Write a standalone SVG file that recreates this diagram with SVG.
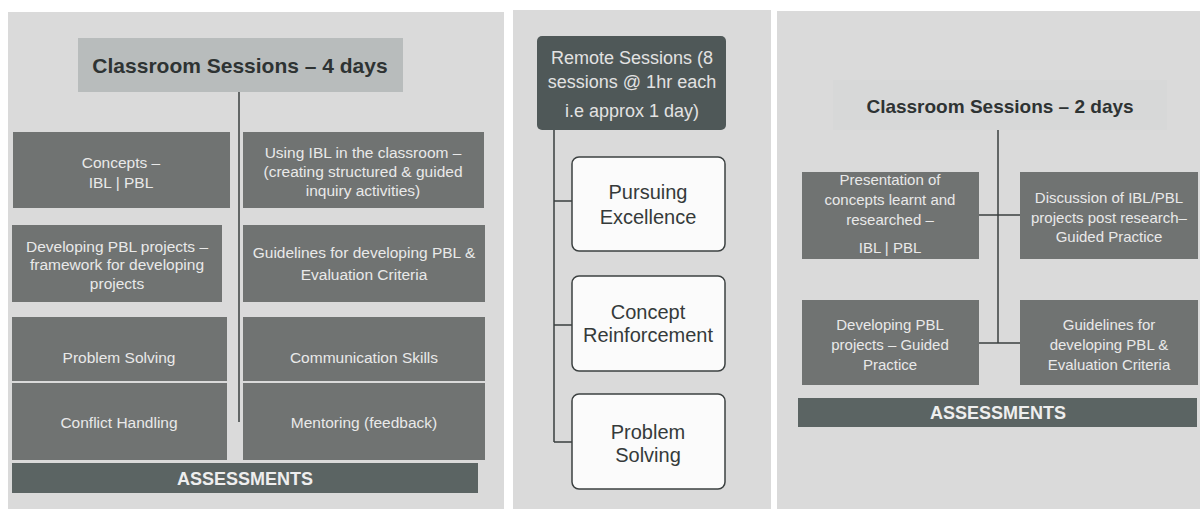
<svg xmlns="http://www.w3.org/2000/svg" width="1200" height="509" viewBox="0 0 1200 509">
  <style>
    .panel { fill: #dadada; }
    .box { fill: #707372; }
    .bar { fill: #5b6463; }
    .btxt { font-family: "Liberation Sans", Arial, sans-serif; font-size: 15.5px; fill: #e9e9e9; text-anchor: middle; }
    .rtxt { font-family: "Liberation Sans", Arial, sans-serif; font-size: 15px; fill: #e9e9e9; text-anchor: middle; }
    .bartxt { font-family: "Liberation Sans", Arial, sans-serif; font-size: 18px; font-weight: bold; fill: #eeeeee; text-anchor: middle; }
    .title { font-family: "Liberation Sans", Arial, sans-serif; font-weight: bold; fill: #2e3333; text-anchor: middle; }
    .child { fill: #fbfbfb; stroke: #3c4141; stroke-width: 1.5; }
    .ctxt { font-family: "Liberation Sans", Arial, sans-serif; font-size: 20px; fill: #353a3a; text-anchor: middle; }
    .htxt { font-family: "Liberation Sans", Arial, sans-serif; font-size: 18px; fill: #e2e2e2; text-anchor: middle; }
    .line { stroke: #3a3f3f; stroke-width: 1.5; fill: none; }
  </style>

  <rect x="0" y="0" width="1200" height="509" fill="#ffffff"/>

  <!-- panel backgrounds -->
  <rect class="panel" x="8" y="12" width="496" height="497"/>
  <rect class="panel" x="513" y="10" width="258" height="499" fill="#dedede"/>
  <rect class="panel" x="777" y="11" width="423" height="498" fill="#e1e1e1"/>

  <!-- connectors -->
  <g id="connectors">
    <line class="line" x1="239" y1="92" x2="239" y2="422"/>
    <path class="line" d="M554 130 V442 M554 201 H572 M554 325 H572 M554 442 H572"/>
    <line class="line" x1="998" y1="130" x2="998" y2="343"/>
    <line class="line" x1="979" y1="215" x2="1020" y2="215"/>
    <line class="line" x1="979" y1="343" x2="1020" y2="343"/>
  </g>

  <!-- left panel: 4-day classroom block -->
  <g id="left-title">
    <rect x="78" y="38" width="325" height="54" fill="#b8bcbc"/>
    <text class="title" x="240" y="73" font-size="21">Classroom Sessions – 4 days</text>
  </g>
  <g id="concepts">
    <rect class="box" x="13" y="132" width="217" height="76"/>
    <text class="btxt" x="121" y="168">Concepts –</text>
    <text class="btxt" x="121" y="188">IBL | PBL</text>
  </g>
  <g id="using-ibl">
    <rect class="box" x="243" y="132" width="241" height="76"/>
    <text class="btxt" x="363" y="158">Using IBL in the classroom –</text>
    <text class="btxt" x="363" y="177">(creating structured &amp; guided</text>
    <text class="btxt" x="363" y="196">inquiry activities)</text>
  </g>
  <g id="developing-pbl">
    <rect class="box" x="12" y="225" width="210" height="77"/>
    <text class="btxt" x="117" y="252">Developing PBL projects –</text>
    <text class="btxt" x="117" y="270">framework for developing</text>
    <text class="btxt" x="117" y="289">projects</text>
  </g>
  <g id="guidelines-left">
    <rect class="box" x="243" y="225" width="242" height="77"/>
    <text class="btxt" x="364" y="258">Guidelines for developing PBL &amp;</text>
    <text class="btxt" x="364" y="280">Evaluation Criteria</text>
  </g>
  <g id="problem-solving-left">
    <rect class="box" x="12" y="317" width="215" height="64"/>
    <text class="btxt" x="119" y="363">Problem Solving</text>
  </g>
  <g id="communication">
    <rect class="box" x="243" y="317" width="242" height="64"/>
    <text class="btxt" x="364" y="363">Communication Skills</text>
  </g>
  <g id="conflict">
    <rect class="box" x="12" y="383" width="215" height="77"/>
    <text class="btxt" x="119" y="428">Conflict Handling</text>
  </g>
  <g id="mentoring">
    <rect class="box" x="243" y="383" width="242" height="77"/>
    <text class="btxt" x="364" y="428">Mentoring (feedback)</text>
  </g>
  <g id="assessments-left">
    <rect class="bar" x="12" y="463" width="466" height="30"/>
    <text class="bartxt" x="245" y="485">ASSESSMENTS</text>
  </g>

  <!-- middle panel: remote sessions -->
  <g id="remote">
    <rect x="537" y="36" width="189" height="94" rx="5" fill="#4f5858"/>
    <text class="htxt" x="632" y="64">Remote Sessions (8</text>
    <text class="htxt" x="632" y="88">sessions @ 1hr each</text>
    <text class="htxt" x="632" y="117" font-size="14.5">i.e approx 1 day)</text>
  </g>
  <g id="pursuing">
    <rect class="child" x="572" y="157" width="153" height="94" rx="7"/>
    <text class="ctxt" x="648" y="199">Pursuing</text>
    <text class="ctxt" x="648" y="224">Excellence</text>
  </g>
  <g id="reinforcement">
    <rect class="child" x="572" y="276" width="153" height="95" rx="7"/>
    <text class="ctxt" x="648" y="319">Concept</text>
    <text class="ctxt" x="648" y="342">Reinforcement</text>
  </g>
  <g id="problem-solving-mid">
    <rect class="child" x="572" y="394" width="153" height="95" rx="7"/>
    <text class="ctxt" x="648" y="439">Problem</text>
    <text class="ctxt" x="648" y="462">Solving</text>
  </g>

  <!-- right panel: 2-day classroom block -->
  <g id="right-title">
    <rect x="833" y="80" width="334" height="50" fill="#d7d8d8"/>
    <text class="title" x="1000" y="113" font-size="19">Classroom Sessions – 2 days</text>
  </g>
  <g id="presentation">
    <rect class="box" x="802" y="172" width="177" height="87"/>
    <text class="rtxt" x="890" y="185">Presentation of</text>
    <text class="rtxt" x="890" y="205">concepts learnt and</text>
    <text class="rtxt" x="890" y="225">researched –</text>
    <text class="rtxt" x="890" y="253">IBL | PBL</text>
  </g>
  <g id="discussion">
    <rect class="box" x="1020" y="172" width="178" height="87"/>
    <text class="rtxt" x="1109" y="203">Discussion of IBL/PBL</text>
    <text class="rtxt" x="1109" y="223">projects post research–</text>
    <text class="rtxt" x="1109" y="242">Guided Practice</text>
  </g>
  <g id="developing-right">
    <rect class="box" x="802" y="300" width="177" height="85"/>
    <text class="rtxt" x="890" y="330">Developing PBL</text>
    <text class="rtxt" x="890" y="350">projects – Guided</text>
    <text class="rtxt" x="890" y="370">Practice</text>
  </g>
  <g id="guidelines-right">
    <rect class="box" x="1020" y="300" width="178" height="85"/>
    <text class="rtxt" x="1109" y="330">Guidelines for</text>
    <text class="rtxt" x="1109" y="350">developing PBL &amp;</text>
    <text class="rtxt" x="1109" y="370">Evaluation Criteria</text>
  </g>
  <g id="assessments-right">
    <rect class="bar" x="798" y="398" width="399" height="29"/>
    <text class="bartxt" x="998" y="419">ASSESSMENTS</text>
  </g>
</svg>
